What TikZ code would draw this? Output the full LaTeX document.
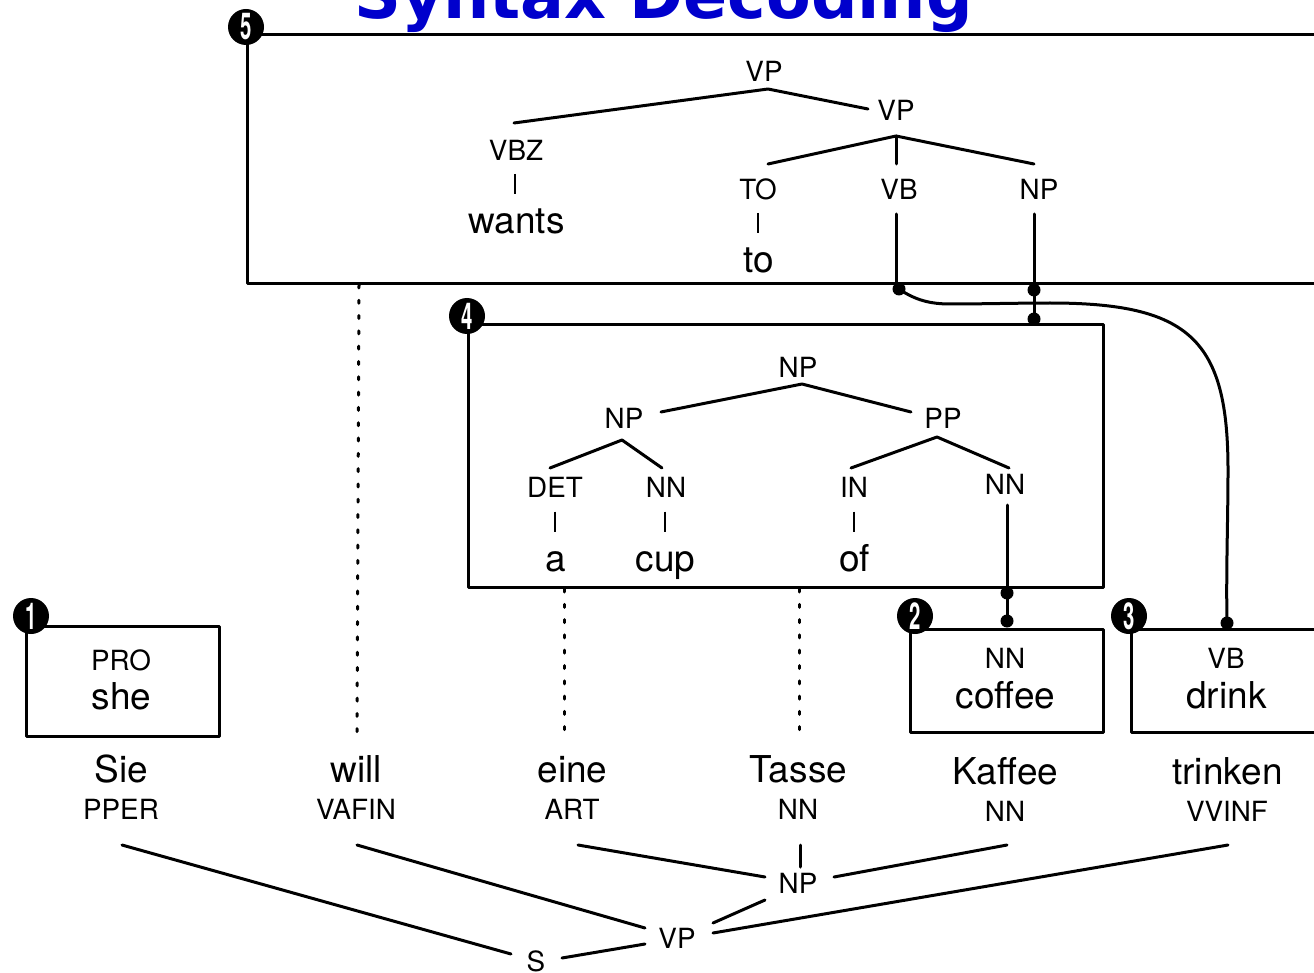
\documentclass[tikz,border=0pt]{standalone}
\usepackage{fontspec}
\setmainfont{TeX Gyre Heros}
\newfontfamily\titlefont{DejaVu Sans}
\definecolor{titleblue}{RGB}{0,0,204}
\tikzset{
	cat/.style={inner sep=0pt,text height=21pt,font=\fontsize{27.8}{28}\selectfont},
	word/.style={inner sep=0pt,anchor=base,xshift=0.5pt,font=\fontsize{37}{38}\selectfont},
	branch/.style={line width=3pt,line cap=round},
	tick/.style={line width=2.2pt},
	dotline/.style={line width=3pt,line cap=round,dash pattern=on 3pt off 12.3pt},
	sbox/.style={draw,line width=3pt,line join=round,inner sep=0pt,outer sep=0pt,anchor=north west},
	badge/.style={circle,fill=black,text=white,inner sep=0pt,minimum size=36pt,font=\fontsize{37}{37}\selectfont\bfseries},
	joint/.style={circle,fill=black,inner sep=0pt,minimum size=13pt},
}
\begin{document}
\begin{tikzpicture}[x=1pt,y=-1pt,line join=round]
	\useasboundingbox (0,0) rectangle (1314,973);
	\clip (0,0) rectangle (1314,973);
	\node[anchor=base,inner sep=0pt,text=titleblue,font=\fontsize{65.1}{65}\titlefont\bfseries] (title) at (663.5,19) {Syntax Decoding};

	% boxes
	\node[sbox,minimum width=1100pt,minimum height=249pt] (box5) at (247,35) {};
	\node[sbox,minimum width=635pt,minimum height=262pt] (box4) at (468,325) {};
	\node[sbox,minimum width=193pt,minimum height=110pt] (box1) at (26,626) {};
	\node[sbox,minimum width=193pt,minimum height=103pt] (box2) at (910,629) {};
	\node[sbox,minimum width=220pt,minimum height=103pt] (box3) at (1131,629) {};
	\foreach \n/\xx/\yy in {5/246/27,4/467/316,1/31/616,2/915/616,3/1129/616}
		\node[badge] (badge\n) at (\xx,\yy) {\scalebox{0.55}[1]{\n}};

	% rule 5
	\node[cat] (vptop) at (764,71) {VP};
	\node[cat] (vpsub) at (896,110) {VP};
	\node[cat] (vbz) at (516,150) {VBZ};
	\node[word] (wants) at (516,234) {wants};
	\node[cat] (to) at (758,189) {TO};
	\node[word] (toword) at (758,273) {to};
	\node[cat] (vb) at (899,189) {VB};
	\node[cat] (nptop) at (1039,189) {NP};
	\draw[branch] ([shift={(-2,-27)}]vbz.center) -- ([shift={(4,18)}]vptop.center) -- ([shift={(-28,-1)}]vpsub.center);
	\draw[branch] ([shift={(10,-25)}]to.center) -- ([yshift=-26pt]vpsub.center) -- ([shift={(-5,-25)}]nptop.center);
	\draw[branch] ([yshift=-26pt]vpsub.center) -- ([shift={(-3,-25)}]vb.center);
	\draw[tick] ([shift={(-1.5,-60)}]wants.base) -- ([shift={(-1.5,-40)}]wants.base);
	\draw[tick] ([shift={(-0.5,-60)}]toword.base) -- ([shift={(-0.5,-40)}]toword.base);

	% joints
	\node[joint] (vbjoint) at (899,289) {};
	\node[joint] (npjoint) at (1034,290) {};
	\node[joint] (boxjoint) at (1034,319) {};
	\node[joint] (nnjoint) at (1007,593) {};
	\node[joint] (coffeejoint) at (1007,621) {};
	\node[joint] (drinkjoint) at (1227,623) {};
	\draw[branch] ([shift={(-3,25)}]vb.center) -- ([shift={(-3,100)}]vb.center);
	\draw[branch] ([shift={(-5,25)}]nptop.center) -- (boxjoint.center);
	\draw[branch] (vbjoint.center) .. controls (915,300) and (930,304) .. (950,304)
		.. controls (980,304) and (1020,303) .. (1050,303)
		.. controls (1190,303) and (1228,340) .. (1228,470)
		.. controls (1228,520) and (1226,570) .. (drinkjoint.center);

	% rule 4
	\node[cat] (np) at (798,367) {NP};
	\node[cat] (npleft) at (624,418) {NP};
	\node[cat] (pp) at (943,418) {PP};
	\node[cat] (det) at (555,487) {DET};
	\node[word] (a) at (555,571.5) {a};
	\node[cat] (nncup) at (666,487) {NN};
	\node[word] (cup) at (665,571.5) {cup};
	\node[cat] (in) at (854,487) {IN};
	\node[word] (of) at (854,571.5) {of};
	\node[cat] (nnof) at (1005,484) {NN};
	\draw[branch] ([shift={(37,-6)}]npleft.center) -- ([shift={(4,17)}]np.center) -- ([shift={(-32,-6)}]pp.center);
	\draw[branch] ([shift={(-5,-19)}]det.center) -- ([shift={(-2,22)}]npleft.center) -- ([shift={(-4,-19)}]nncup.center);
	\draw[branch] ([shift={(-3,-19)}]in.center) -- ([shift={(-6,19)}]pp.center) -- ([shift={(4,-16)}]nnof.center);
	\draw[tick] ([shift={(-0.5,-60)}]a.base) -- ([shift={(-0.5,-40)}]a.base);
	\draw[tick] ([shift={(-0.5,-60)}]cup.base) -- ([shift={(-0.5,-40)}]cup.base);
	\draw[tick] ([shift={(-0.5,-60)}]of.base) -- ([shift={(-0.5,-40)}]of.base);
	\draw[branch] ([shift={(2,21)}]nnof.center) -- (coffeejoint.center);

	% rules 1 to 3
	\node[cat] (pro) at (121,660) {PRO};
	\node[word] (she) at (121,709) {she};
	\node[cat] (nncoffee) at (1005,658) {NN};
	\node[word] (coffee) at (1005,708) {coffee};
	\node[cat] (vbdrink) at (1226,658) {VB};
	\node[word] (drink) at (1226,708) {drink};

	% source words
	\node[word] (sie) at (121,782) {Sie};
	\node[cat] (pper) at (121,809) {PPER};
	\node[word] (will) at (356,782) {will};
	\node[cat] (vafin) at (356,809) {VAFIN};
	\node[word] (eine) at (572,782) {eine};
	\node[cat] (art) at (572,809) {ART};
	\node[word] (tasse) at (798,782) {Tasse};
	\node[cat] (nntasse) at (798,809) {NN};
	\node[word] (kaffee) at (1005,784) {Kaffee};
	\node[cat] (nnkaffee) at (1005,811) {NN};
	\node[word] (trinken) at (1227,784) {trinken};
	\node[cat] (vvinf) at (1227,811) {VVINF};
	\node[cat] (npsrc) at (798,883) {NP};
	\node[cat] (vpsrc) at (677,938) {VP};
	\node[cat] (s) at (536,961) {S};

	\draw[branch] ([shift={(1,36)}]pper.center) -- ([shift={(-25,-7)}]s.center);
	\draw[branch] ([shift={(26,-3)}]s.center) -- ([shift={(-32,6)}]vpsrc.center);
	\draw[branch] ([shift={(1,36)}]vafin.center) -- ([shift={(-32,-10)}]vpsrc.center);
	\draw[branch] ([shift={(6,36)}]art.center) -- ([shift={(-33,-6)}]npsrc.center);
	\draw[branch] ([shift={(2,36)}]nntasse.center) -- ([shift={(2,-16)}]npsrc.center);
	\draw[branch] ([shift={(2,34)}]nnkaffee.center) -- ([shift={(36,-6)}]npsrc.center);
	\draw[branch] ([shift={(-33,17)}]npsrc.center) -- ([shift={(36,-15)}]vpsrc.center);
	\draw[branch] ([shift={(1,34)}]vvinf.center) -- ([shift={(36,-5)}]vpsrc.center);

	% alignment of source words
	\coordinate (willtop) at (359,285);
	\coordinate (willend) at (357,735);
	\coordinate (einetop) at (564.5,589);
	\coordinate (eineend) at (564.5,730);
	\coordinate (tassetop) at (799.5,589);
	\coordinate (tasseend) at (799.5,730);
	\draw[dotline] (willtop) -- (willend);
	\draw[dotline] (einetop) -- (eineend);
	\draw[dotline] (tassetop) -- (tasseend);
\end{tikzpicture}
\end{document}
